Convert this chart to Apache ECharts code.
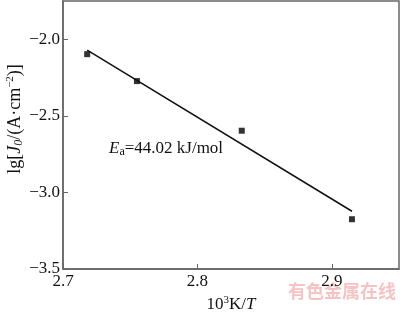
<!DOCTYPE html>
<html><head><meta charset="utf-8">
<script src="https://cdn.jsdelivr.net/npm/echarts@6/dist/echarts.min.js"></script>
<style>html,body{margin:0;padding:0;background:#fff}#c{width:400px;height:312px}</style>
</head><body><div id="c"></div>
<script>
// Data
var xVals = [2.718, 2.755, 2.833, 2.915];
var yVals = [-2.097, -2.273, -2.597, -3.175];
var fitX = [2.718, 2.915];
var fitY = [-2.071, -3.123];
var xTicks = [2.7, 2.8, 2.9];
var yTicks = [-3.5, -3.0, -2.5, -2.0];

var font = 'Liberation Serif';
var pts = xVals.map(function(x, i){ return [x, yVals[i]]; });
var fit = fitX.map(function(x, i){ return [x, fitY[i]]; });
function fmt(v){ return v.toFixed(1).replace('-', '\u2212'); }

var chart = echarts.init(document.getElementById('c'));
chart.setOption({
  animation: false,
  backgroundColor: '#fff',
  grid: { left: 63, right: 1, top: 1, bottom: 43, show: true, borderColor: '#666', borderWidth: 1.5,
          containLabel: false, outerBoundsMode: 'none' },
  xAxis: {
    type: 'value', min: 2.7, max: 2.95, interval: 0.1,
    axisLine: { show: true, lineStyle: { color: '#666', width: 1.5 } },
    axisTick: { show: true, inside: true, length: 5, lineStyle: { color: '#666' } },
    splitLine: { show: false },
    axisLabel: { showMaxLabel: false, color: '#111', fontFamily: font, fontSize: 17, margin: 4, formatter: function(v){ return fmt(v); } },
    name: '{n|10}{sup|3}{n|K/}{it|T}', nameLocation: 'middle', nameGap: 24,
    nameTextStyle: { rich: {
      n: { fontFamily: font, fontSize: 17, color: '#111' },
      it: { fontFamily: font, fontSize: 17, fontStyle: 'italic', color: '#111' },
      sup: { fontFamily: font, fontSize: 11, color: '#111', padding: [0,0,8,0] }
    } }
  },
  yAxis: {
    type: 'value', min: -3.5, max: -1.75, interval: 0.5,
    axisLine: { show: true, lineStyle: { color: '#666', width: 1.5 } },
    axisTick: { show: true, inside: true, length: 5, lineStyle: { color: '#666' } },
    splitLine: { show: false },
    axisLabel: { showMaxLabel: false, color: '#111', fontFamily: font, fontSize: 17, margin: 3, formatter: function(v){ return fmt(v); } }
  },
  series: [
    { type: 'line', data: fit, symbol: 'none', lineStyle: { color: '#111', width: 1.5 }, silent: true },
    { type: 'scatter', data: pts, symbol: 'rect', symbolSize: 6, itemStyle: { color: '#000' } }
  ],
  graphic: [
    { type: 'text', x: 15, y: 119, rotation: Math.PI / 2, style: {
      text: '{n|lg[}{it|J}{sub|0}{n|/(A\u00b7cm}{sup|\u22122}{n|)]}',
      align: 'center', verticalAlign: 'middle',
      rich: {
        n: { fontFamily: font, fontSize: 18, fill: '#111' },
        it: { fontFamily: font, fontSize: 18, fontStyle: 'italic', fill: '#111' },
        sub: { fontFamily: font, fontSize: 12, fontStyle: 'italic', fill: '#111', padding: [7,0,0,0] },
        sup: { fontFamily: font, fontSize: 11, fill: '#111', padding: [0,0,9,0] }
      } } },
    { type: 'text', left: 109, top: 140, style: {
      text: '{it|E}{sub|a}{n|=44.02 kJ/mol}',
      rich: {
        n: { fontFamily: font, fontSize: 17, fill: '#111' },
        it: { fontFamily: font, fontSize: 17, fontStyle: 'italic', fill: '#111' },
        sub: { fontFamily: font, fontSize: 12, fill: '#111', padding: [7,0,0,0] }
      } } },
    { type: 'text', left: 288, top: 282, style: {
      text: '有色金属在线', font: 'bold 18px "Noto Sans CJK SC"', fill: 'rgba(235,120,120,0.45)' } }
  ]
});
</script></body></html>
